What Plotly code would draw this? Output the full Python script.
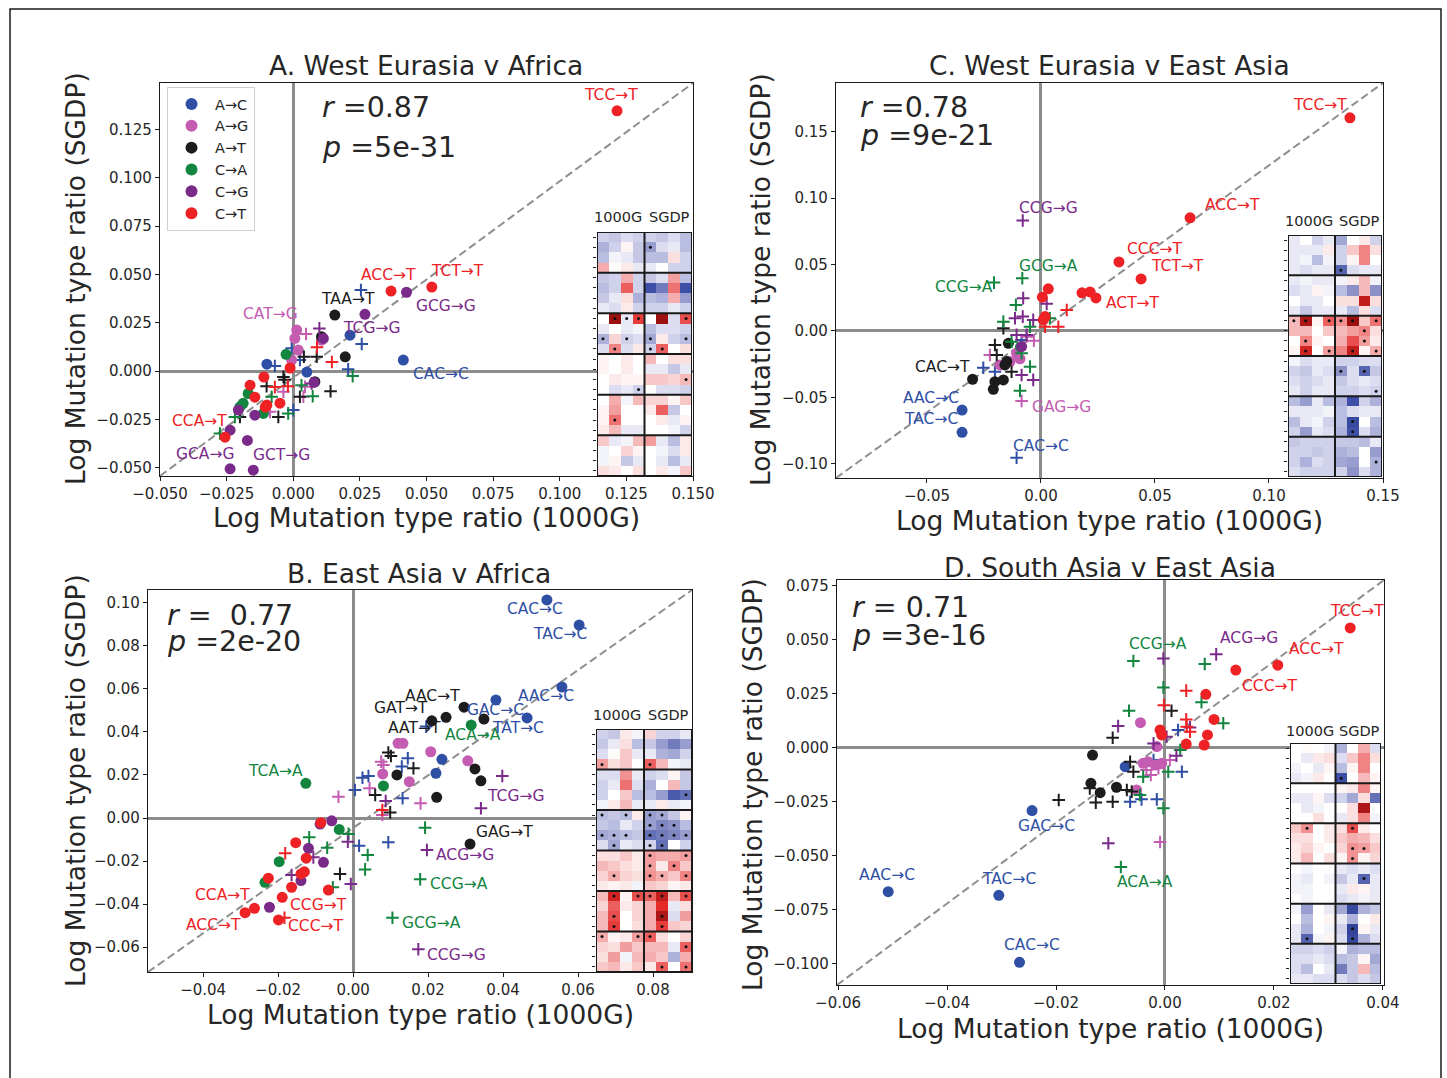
import plotly.graph_objects as go

W, H = 1447, 1078
FONT = "DejaVu Sans"
INK = "#262626"

COLORS = {"AC": "#2f4fa5", "AG": "#c45cb2", "AT": "#1c1c1c",
          "CA": "#12853f", "CG": "#7a2b8a", "CT": "#ee2125"}
CLASS_NAMES = {"AC": "A→C", "AG": "A→G", "AT": "A→T",
               "CA": "C→A", "CG": "C→G", "CT": "C→T"}
CLASS_ORDER = ["AC", "AG", "AT", "CA", "CG", "CT"]

# ---------------- Panel A: West Eurasia v Africa ----------------
A_AC_dot = [(0.0413, 0.0057), (0.0213, 0.0186), (-0.0099, 0.0036), (0.0051, -0.0005)]
A_AC_plus = [(0.0254, 0.0420), (0.0257, 0.0140), (0.0206, 0.0009), (-0.0069, 0.0026),
             (0.0025, 0.0057), (0.0000, -0.0202), (-0.0006, 0.0118)]
A_AG_dot = [(0.0013, 0.0212), (0.0006, 0.0169), (0.0019, 0.0109), (-0.0006, 0.0057), (0.0106, 0.0160)]
A_AG_plus = [(0.0048, 0.0192), (0.0044, -0.0081), (0.0038, -0.0133), (-0.0087, -0.0211), (-0.0037, -0.0107)]
A_AT_dot = [(0.0156, 0.0290), (0.0106, 0.0178), (0.0195, 0.0074), (0.0081, -0.0055)]
A_AT_plus = [(0.0040, 0.0074), (0.0088, 0.0074), (-0.0037, -0.0030), (-0.0100, -0.0078),
             (0.0025, -0.0133), (-0.0056, -0.0237), (0.0140, -0.0104), (-0.0033, -0.0045),
             (-0.0200, -0.0237)]
A_CA_dot = [(-0.0027, 0.0087), (-0.0169, -0.0116), (-0.0188, -0.0167), (-0.0200, -0.0185), (-0.0112, -0.0219)]
A_CA_plus = [(0.0223, -0.0026), (0.0073, -0.0130), (0.0031, -0.0073), (-0.0019, -0.0219),
             (-0.0081, -0.0133), (-0.0219, -0.0237), (-0.0275, -0.0323)]
A_CG_dot = [(0.0425, 0.0408), (0.0269, 0.0294), (0.0113, 0.0169), (0.0078, -0.0059),
            (-0.0206, -0.0202), (-0.0237, -0.0306), (-0.0172, -0.0359), (-0.0237, -0.0506),
            (-0.0150, -0.0513), (-0.0144, -0.0228)]
A_CG_plus = [(0.0098, 0.0221), (0.0069, -0.0064)]
A_CT_dot = [(0.1215, 0.1347), (0.0367, 0.0414), (0.0520, 0.0435), (-0.0110, -0.0031),
            (-0.0162, -0.0073), (-0.0144, -0.0135), (-0.0099, -0.0176), (-0.0105, -0.0186),
            (-0.0050, -0.0166), (-0.0256, -0.0342), (-0.0012, 0.0016)]
A_CT_plus = [(0.0089, 0.0124), (0.0145, 0.0047), (-0.0069, -0.0083), (-0.0020, -0.0078)]
A_LABELS = [("TCC→T", 0.1192, 0.1430, "CT"), ("ACC→T", 0.0357, 0.0497, "CT"),
            ("TCT→T", 0.0617, 0.0518, "CT"), ("GCG→G", 0.0575, 0.0337, "CG"),
            ("TAA→T", 0.0207, 0.0373, "AT"), ("CAT→G", -0.0086, 0.0295, "AG"),
            ("TCG→G", 0.0293, 0.0223, "CG"), ("CAC→C", 0.0556, -0.0016, "AC"),
            ("CCA→T", -0.0353, -0.0259, "CT"), ("GCA→G", -0.0331, -0.0430, "CG"),
            ("GCT→G", -0.0045, -0.0435, "CG")]

# ---------------- Panel C: West Eurasia v East Asia ----------------
C_AC_dot = [(-0.0346, -0.0596), (-0.0346, -0.0764)]
C_AC_plus = [(-0.0107, -0.0955), (-0.0253, -0.0277), (-0.0202, -0.0307), (-0.0085, -0.0068)]
C_AG_dot = [(-0.0107, -0.0168), (-0.0180, -0.0256), (-0.0136, -0.0231), (-0.0092, -0.0210)]
C_AG_plus = [(-0.0085, -0.0528), (-0.0031, -0.0073), (-0.0063, -0.0043), (-0.0224, -0.0181)]
C_AT_dot = [(-0.0300, -0.0364), (-0.0209, -0.0440), (-0.0202, -0.0382), (-0.0165, -0.0369),
            (-0.0150, -0.0231), (-0.0143, -0.0093), (-0.0158, -0.0256)]
C_AT_plus = [(-0.0202, -0.0106), (-0.0194, -0.0181), (-0.0165, 0.0020), (-0.0129, -0.0307)]
C_CA_dot = [(-0.0090, -0.0120)]
C_CA_plus = [(-0.0206, 0.0364), (-0.0082, 0.0397), (-0.0110, 0.0196), (-0.0165, 0.0070),
             (-0.0048, 0.0032), (0.0039, 0.0096), (-0.0129, -0.0081), (-0.0085, -0.0168),
             (-0.0048, -0.0269), (-0.0092, -0.0450)]
C_CG_dot = [(-0.0085, -0.0118)]
C_CG_plus = [(-0.0080, 0.0832), (-0.0078, 0.0247), (0.0025, 0.0204), (-0.0114, 0.0096),
             (-0.0080, 0.0108), (-0.0034, 0.0083), (-0.0063, -0.0030), (-0.0107, -0.0030),
             (-0.0085, -0.0332), (-0.0034, -0.0369)]
C_CT_dot = [(0.1355, 0.1606), (0.0654, 0.0852), (0.0342, 0.0520), (0.0439, 0.0392),
            (0.0241, 0.0249), (0.0180, 0.0287), (0.0215, 0.0294), (0.0032, 0.0317),
            (0.0006, 0.0254), (0.0018, 0.0108), (0.0010, 0.0083)]
C_CT_plus = [(0.0113, 0.0158), (0.0076, 0.0032), (0.0018, 0.0032)]
C_LABELS = [("TCC→T", 0.1224, 0.1702, "CT"), ("ACC→T", 0.0838, 0.0949, "CT"),
            ("CCG→G", 0.0035, 0.0926, "CG"), ("CCC→T", 0.0496, 0.0617, "CT"),
            ("GCG→A", 0.0035, 0.0489, "CA"), ("TCT→T", 0.0597, 0.0489, "CT"),
            ("CCG→A", -0.0338, 0.0331, "CA"), ("ACT→T", 0.0404, 0.0211, "CT"),
            ("CAC→T", -0.0434, -0.0271, "AT"), ("AAC→C", -0.0482, -0.0505, "AC"),
            ("GAG→G", 0.0092, -0.0572, "AG"), ("TAC→C", -0.0482, -0.0663, "AC"),
            ("CAC→C", 0.0000, -0.0866, "AC")]

# ---------------- Panel B: East Asia v Africa ----------------
B_AC_dot = [(0.0517, 0.1014), (0.0603, 0.0897), (0.0557, 0.0609), (0.0381, 0.0549),
            (0.0464, 0.0465), (0.0237, 0.0273), (0.0221, 0.0208)]
B_AC_plus = [(0.0005, 0.0130), (0.0025, 0.0187), (0.0041, 0.0195), (0.0132, 0.0092),
             (0.0146, 0.0278), (0.0130, 0.0239), (0.0016, -0.0129), (0.0094, -0.0113),
             (0.0195, 0.0425)]
B_AG_dot = [(0.0120, 0.0347), (0.0133, 0.0347), (0.0207, 0.0308), (0.0306, 0.0266),
            (0.0079, 0.0205), (0.0150, 0.0169)]
B_AG_plus = [(-0.0039, 0.0099), (0.0044, 0.0138), (0.0075, 0.0262), (0.0081, 0.0246),
             (0.0180, 0.0068), (0.0078, 0.0014)]
B_AT_dot = [(0.0296, 0.0515), (0.0248, 0.0468), (0.0210, 0.0452), (0.0349, 0.0460),
            (0.0325, 0.0228), (0.0341, 0.0173), (0.0223, 0.0096), (0.0312, -0.0121),
            (0.0117, 0.0200)]
B_AT_plus = [(0.0094, 0.0304), (0.0101, 0.0288), (0.0059, 0.0107), (0.0099, 0.0026),
             (-0.0035, -0.0260), (0.0161, 0.0231)]
B_CA_dot = [(0.0315, 0.0432), (0.0081, 0.0149), (-0.0126, 0.0161), (-0.0197, -0.0203),
            (-0.0235, -0.0299), (-0.0037, -0.0053)]
B_CA_plus = [(0.0192, -0.0045), (0.0179, -0.0285), (0.0105, -0.0464), (-0.0117, -0.0090),
             (-0.0069, -0.0138), (0.0039, -0.0172), (0.0032, -0.0239), (-0.0054, -0.0322),
             (-0.0012, -0.0074)]
B_CG_dot = [(-0.0119, -0.0141), (-0.0079, -0.0206), (-0.0139, -0.0291), (-0.0223, -0.0415),
            (-0.0057, -0.0013), (-0.0088, -0.0028)]
B_CG_plus = [(0.0341, 0.0045), (0.0398, 0.0195), (0.0197, -0.0149), (0.0174, -0.0610),
             (-0.0106, -0.0183), (-0.0164, -0.0265), (-0.0006, -0.0307), (-0.0014, -0.0110),
             (0.0087, 0.0079)]
B_CT_dot = [(-0.0288, -0.0440), (-0.0263, -0.0420), (-0.0189, -0.0369), (-0.0164, -0.0322),
            (-0.0139, -0.0260), (-0.0130, -0.0250), (-0.0226, -0.0280), (-0.0153, -0.0115),
            (-0.0125, -0.0187), (-0.0086, -0.0022), (-0.0066, -0.0335), (-0.0199, -0.0474)]
B_CT_plus = [(-0.0181, -0.0164), (0.0078, 0.0037), (-0.0183, -0.0464)]
B_LABELS = [("CAC→C", 0.0485, 0.0972, "AC"), ("TAC→C", 0.0552, 0.0856, "AC"),
            ("AAC→T", 0.0213, 0.0567, "AT"), ("AAC→C", 0.0515, 0.0567, "AC"),
            ("GAT→T", 0.0128, 0.0512, "AT"), ("GAC→C", 0.0379, 0.0502, "AC"),
            ("AAT→T", 0.0163, 0.0419, "AT"), ("TAT→C", 0.0440, 0.0419, "AC"),
            ("ACA→A", 0.0320, 0.0386, "CA"), ("TCA→A", -0.0208, 0.0219, "CA"),
            ("TCG→G", 0.0432, 0.0102, "CG"), ("GAG→T", 0.0403, -0.0065, "AT"),
            ("ACG→G", 0.0299, -0.0172, "CG"), ("CCG→A", 0.0283, -0.0307, "CA"),
            ("CCA→T", -0.0347, -0.0358, "CT"), ("CCG→T", -0.0091, -0.0405, "CT"),
            ("GCG→A", 0.0208, -0.0488, "CA"), ("ACC→T", -0.0371, -0.0498, "CT"),
            ("CCC→T", -0.0101, -0.0502, "CT"), ("CCG→G", 0.0277, -0.0637, "CG")]

# ---------------- Panel D: South Asia v East Asia ----------------
D_AC_dot = [(-0.0508, -0.0666), (-0.0305, -0.0683), (-0.0267, -0.0993), (-0.0244, -0.0291),
            (-0.0073, -0.0088)]
D_AC_plus = [(-0.0064, -0.0250), (-0.0043, -0.0239), (-0.0015, -0.0239), (0.0031, -0.0111),
             (0.0024, 0.0082), (-0.0021, -0.0057)]
D_AG_dot = [(-0.0045, 0.0116), (-0.0040, -0.0072), (-0.0031, -0.0065), (-0.0018, -0.0080),
            (-0.0006, -0.0072), (-0.0052, -0.0196), (-0.0015, 0.0005)]
D_AG_plus = [(-0.0009, -0.0436), (-0.0034, -0.0103), (-0.0026, -0.0126), (-0.0012, -0.0095),
             (0.0009, -0.0057)]
D_AT_dot = [(-0.0133, -0.0034), (-0.0136, -0.0165), (-0.0119, -0.0208), (-0.0089, -0.0183)]
D_AT_plus = [(-0.0195, -0.0242), (-0.0127, -0.0254), (-0.0096, -0.0250), (-0.0096, 0.0046),
             (0.0012, 0.0171), (-0.0064, -0.0065), (-0.0058, -0.0111), (-0.0070, -0.0196),
             (-0.0061, -0.0203), (-0.0138, -0.0188)]
D_CA_dot = []
D_CA_plus = [(-0.0058, 0.0401), (0.0073, 0.0387), (-0.0003, 0.0279), (-0.0066, 0.0171),
             (0.0067, 0.0210), (0.0107, 0.0113), (-0.0040, -0.0134), (-0.0046, -0.0219),
             (0.0006, -0.0111), (0.0028, -0.0011), (-0.0003, -0.0280), (-0.0081, -0.0552)]
D_CG_dot = []
D_CG_plus = [(-0.0104, -0.0442), (0.0094, 0.0432), (-0.0003, 0.0413), (-0.0086, 0.0100),
             (0.0046, 0.0094), (-0.0021, 0.0020), (0.0021, -0.0037), (0.0003, 0.0051)]
D_CT_dot = [(0.0340, 0.0554), (0.0207, 0.0382), (0.0130, 0.0359), (0.0075, 0.0247),
            (0.0090, 0.0131), (0.0078, 0.0059), (0.0039, 0.0017), (0.0072, 0.0012),
            (-0.0009, 0.0082), (-0.0006, 0.0059)]
D_CT_plus = [(0.0039, 0.0264), (-0.0002, 0.0197), (0.0039, 0.0131), (0.0040, 0.0097),
             (0.0046, 0.0074)]
D_LABELS = [("TCC→T", 0.0352, 0.0632, "CT"), ("ACG→G", 0.0154, 0.0507, "CG"),
            ("CCG→A", -0.0013, 0.0480, "CA"), ("ACC→T", 0.0279, 0.0456, "CT"),
            ("CCC→T", 0.0191, 0.0285, "CT"), ("GAC→C", -0.0218, -0.0362, "AC"),
            ("AAC→C", -0.0510, -0.0589, "AC"), ("TAC→C", -0.0286, -0.0607, "AC"),
            ("ACA→A", -0.0037, -0.0621, "CA"), ("CAC→C", -0.0244, -0.0913, "AC")]

# ---------------- Heatmaps: 24 contexts x (1000G | SGDP) ----------------
A_HEAT = [
    [-0.20, -0.25, -0.15, -0.20, -0.20, -0.25, -0.15, -0.30],
    [-0.35, -0.20, 0.05, -0.25, -0.45, -0.15, -0.10, -0.30],
    [-0.30, -0.05, -0.10, -0.25, -0.30, -0.30, 0.15, -0.20],
    [0.35, 0.02, 0.10, -0.10, -0.10, 0.00, -0.20, -0.20],
    [-0.25, -0.20, 0.35, -0.20, -0.25, -0.15, 0.40, -0.30],
    [-0.30, -0.20, 0.60, -0.20, -0.80, -0.60, 0.55, -0.80],
    [-0.25, -0.10, 0.15, -0.35, -0.30, -0.35, 0.35, -0.45],
    [-0.10, -0.15, 0.10, -0.20, -0.20, -0.20, -0.10, -0.20],
    [0.00, 0.95, -0.10, 0.70, 0.00, 0.95, -0.15, 0.65],
    [-0.10, 0.00, -0.10, -0.05, -0.30, -0.15, -0.15, -0.20],
    [-0.35, 0.20, -0.20, -0.15, -0.40, 0.10, -0.20, -0.30],
    [-0.15, 0.50, -0.15, 0.10, -0.20, 0.60, 0.00, 0.15],
    [0.05, 0.00, 0.10, 0.00, 0.30, 0.00, 0.15, 0.15],
    [0.05, 0.00, 0.10, 0.00, -0.10, -0.10, -0.25, -0.10],
    [0.00, 0.10, 0.05, 0.05, 0.25, 0.25, 0.20, 0.30],
    [0.00, -0.15, -0.10, -0.20, 0.00, -0.15, -0.15, -0.20],
    [0.00, 0.35, -0.05, 0.30, 0.20, 0.20, 0.05, 0.25],
    [0.05, 0.40, 0.00, 0.00, 0.10, 0.60, -0.25, 0.00],
    [0.05, 0.55, 0.00, 0.00, 0.00, 0.10, -0.10, 0.05],
    [0.10, 0.30, -0.10, -0.10, 0.00, 0.00, -0.05, -0.20],
    [0.25, -0.10, -0.05, 0.30, 0.40, -0.10, -0.30, 0.10],
    [-0.05, 0.00, 0.20, 0.05, 0.00, -0.05, -0.15, 0.10],
    [-0.05, 0.05, -0.25, -0.10, 0.00, -0.10, -0.30, -0.10],
    [0.15, 0.10, 0.00, 0.15, 0.00, 0.10, -0.05, 0.25],
]
A_HEAT_SIG = [(1, 4), (8, 1), (8, 2), (8, 3), (8, 7), (10, 0), (10, 2), (10, 4), (10, 7),
              (11, 1), (11, 4), (11, 5), (14, 7), (15, 3), (18, 1)]

C_HEAT = [
    [-0.10, 0.00, -0.20, -0.10, -0.40, 0.00, 0.10, -0.20],
    [-0.10, -0.10, -0.10, 0.10, -0.20, 0.25, 0.50, 0.15],
    [-0.10, -0.05, -0.30, -0.05, -0.20, 0.05, 0.50, 0.00],
    [-0.10, -0.15, -0.10, -0.10, -0.70, -0.15, -0.10, -0.10],
    [-0.10, -0.05, -0.10, -0.10, -0.05, 0.10, 0.30, -0.05],
    [-0.15, -0.10, 0.05, -0.05, -0.30, -0.50, 0.30, -0.50],
    [0.00, -0.10, -0.10, 0.00, 0.15, 0.15, 0.85, 0.15],
    [-0.10, -0.25, -0.10, -0.10, -0.10, -0.30, 0.15, -0.15],
    [0.30, 0.90, 0.05, 0.60, 0.45, 0.95, 0.25, 0.55],
    [0.30, 0.30, 0.00, 0.25, 0.30, 0.40, 0.50, 0.15],
    [0.00, 0.50, 0.05, 0.00, 0.35, 0.65, 0.40, 0.10],
    [0.05, 0.80, 0.00, 0.40, 0.50, 0.85, 0.05, 0.35],
    [-0.05, -0.15, -0.10, -0.10, -0.20, -0.20, -0.15, -0.15],
    [-0.20, -0.25, -0.10, -0.15, -0.50, -0.15, -0.70, -0.25],
    [-0.15, -0.20, -0.15, -0.10, -0.25, -0.15, -0.10, -0.15],
    [-0.10, -0.20, -0.10, -0.10, -0.20, -0.20, -0.15, -0.20],
    [-0.30, -0.45, -0.10, -0.30, -0.35, -0.80, -0.20, -0.35],
    [-0.10, -0.10, -0.10, -0.05, -0.30, -0.15, -0.10, -0.10],
    [-0.30, -0.10, -0.05, -0.20, -0.30, -0.85, 0.00, -0.30],
    [-0.20, -0.45, -0.10, -0.15, -0.35, -0.80, -0.15, -0.35],
    [-0.25, -0.20, -0.20, -0.20, -0.25, -0.25, -0.30, -0.10],
    [-0.20, -0.20, -0.25, -0.20, -0.35, -0.30, 0.00, -0.45],
    [-0.20, -0.35, -0.15, -0.20, -0.40, -0.45, 0.00, -0.35],
    [-0.15, -0.20, -0.20, -0.20, -0.20, -0.50, -0.15, -0.35],
]
C_HEAT_SIG = [(3, 4), (8, 0), (8, 1), (8, 3), (8, 4), (8, 5), (8, 7), (9, 6), (10, 1),
              (10, 6), (11, 1), (11, 3), (11, 5), (11, 7), (13, 4), (13, 6), (15, 7),
              (18, 5), (19, 5), (22, 7)]

B_HEAT = [
    [-0.20, -0.25, 0.10, -0.05, 0.20, -0.20, -0.20, -0.10],
    [-0.25, -0.10, 0.15, -0.30, -0.25, -0.45, -0.60, -0.45],
    [-0.15, 0.02, 0.25, -0.10, -0.10, -0.35, -0.40, -0.20],
    [0.40, 0.15, 0.25, 0.00, 0.60, 0.30, -0.05, -0.10],
    [-0.15, -0.15, 0.45, -0.10, -0.20, -0.15, 0.05, -0.25],
    [-0.20, -0.10, 0.55, -0.15, -0.35, 0.00, 0.30, -0.25],
    [-0.20, 0.00, 0.25, -0.30, -0.30, -0.45, -0.75, -0.65],
    [-0.05, 0.10, 0.30, -0.10, -0.10, 0.10, -0.10, -0.05],
    [-0.30, -0.25, -0.30, 0.10, -0.45, -0.40, -0.25, 0.05],
    [-0.25, -0.30, -0.10, -0.20, -0.45, -0.55, -0.50, -0.30],
    [-0.40, -0.35, -0.30, -0.25, -0.65, -0.60, -0.55, -0.45],
    [-0.15, -0.40, -0.10, -0.15, -0.20, -0.65, 0.00, -0.20],
    [0.15, 0.15, 0.25, 0.10, 0.40, 0.35, 0.35, 0.40],
    [0.30, 0.25, 0.15, 0.10, 0.40, 0.10, 0.50, 0.25],
    [0.20, 0.35, 0.20, 0.15, 0.45, 0.35, 0.25, 0.50],
    [0.10, 0.05, 0.10, -0.05, 0.25, 0.20, 0.05, 0.10],
    [0.30, 0.80, 0.05, 0.65, 0.60, 0.85, 0.30, 0.65],
    [0.20, 0.60, 0.10, 0.20, 0.35, 0.75, -0.10, 0.15],
    [0.30, 0.65, 0.00, 0.20, 0.35, 0.90, -0.15, 0.40],
    [0.30, 0.70, 0.00, 0.15, 0.35, 0.70, 0.25, 0.20],
    [0.35, 0.05, 0.10, 0.40, 0.60, 0.15, 0.00, 0.20],
    [0.20, 0.15, 0.40, 0.25, 0.30, 0.30, -0.10, 0.60],
    [0.15, 0.40, -0.05, 0.30, 0.35, 0.25, -0.35, 0.35],
    [0.25, 0.30, 0.10, 0.25, 0.10, 0.60, 0.00, 0.55],
]
B_HEAT_SIG = [(3, 0), (3, 4), (6, 7), (8, 0), (8, 2), (8, 4), (8, 5), (9, 4), (9, 5), (9, 6),
              (10, 0), (10, 1), (10, 2), (10, 4), (10, 5), (10, 6), (10, 7), (11, 1), (11, 4),
              (11, 5), (12, 4), (12, 7), (13, 4), (13, 6), (14, 1), (14, 4), (14, 5), (14, 7),
              (16, 1), (16, 3), (16, 4), (16, 5), (16, 7), (18, 1), (18, 5), (19, 1), (19, 5),
              (20, 0), (20, 3), (20, 4), (21, 7), (23, 5), (23, 7)]

D_HEAT = [
    [0.00, 0.02, 0.00, -0.05, -0.35, 0.00, 0.35, -0.15],
    [0.00, -0.10, 0.10, 0.15, -0.15, 0.25, 0.50, 0.15],
    [-0.05, 0.00, -0.10, 0.05, -0.30, 0.05, 0.50, 0.00],
    [-0.10, -0.05, 0.10, 0.00, -0.80, 0.00, 0.30, 0.05],
    [0.00, 0.00, 0.00, 0.00, 0.05, 0.10, 0.50, 0.05],
    [-0.10, -0.10, 0.05, -0.15, -0.20, -0.40, 0.15, -0.65],
    [0.00, -0.10, -0.05, 0.00, 0.00, 0.15, 0.90, 0.00],
    [0.00, 0.00, 0.15, 0.00, -0.10, 0.15, 0.50, -0.05],
    [0.25, 0.45, 0.00, 0.10, 0.15, 0.65, 0.10, 0.00],
    [0.15, 0.15, 0.00, 0.10, 0.25, 0.35, 0.30, 0.15],
    [0.10, 0.20, 0.05, 0.00, 0.20, 0.45, 0.40, 0.25],
    [0.10, 0.30, 0.00, 0.15, 0.05, 0.45, 0.05, 0.20],
    [0.00, -0.05, 0.00, 0.00, -0.10, -0.15, -0.10, -0.15],
    [-0.05, -0.10, 0.00, -0.05, -0.25, -0.10, -0.70, -0.10],
    [-0.05, -0.05, 0.00, 0.00, -0.10, 0.10, 0.05, -0.10],
    [0.00, -0.05, 0.00, 0.00, -0.15, -0.10, -0.05, -0.10],
    [-0.05, -0.45, 0.00, -0.10, -0.40, -0.85, -0.35, -0.25],
    [0.00, -0.30, 0.00, 0.05, -0.10, -0.35, 0.00, 0.10],
    [-0.10, -0.35, 0.00, -0.05, -0.20, -0.90, 0.05, -0.10],
    [-0.10, -0.70, -0.05, 0.05, -0.15, -0.85, -0.35, -0.15],
    [-0.20, -0.20, -0.15, -0.20, -0.05, -0.35, -0.30, -0.30],
    [-0.15, -0.15, -0.10, -0.15, -0.30, -0.25, 0.05, -0.40],
    [-0.15, -0.30, 0.00, -0.10, -0.60, -0.25, 0.30, -0.30],
    [-0.10, -0.10, -0.15, -0.15, -0.15, -0.25, -0.15, -0.25],
]
D_HEAT_SIG = [(3, 4), (8, 1), (8, 5), (10, 5), (10, 6), (11, 5), (13, 6), (18, 5), (19, 1), (19, 5)]

# ---------------- Panel geometry (pixel boxes on the 1447x1078 page) ----------------
PANELS = [
    dict(title="A. West Eurasia v Africa", title_xy=(426, 66),
         frame=(160, 83, 693, 476), xr=(-0.05, 0.15), yr=(-0.0543, 0.1491),
         xd=0.025, xf=".3f", yd=0.025, yf=".3f",
         pts={"AC": (A_AC_dot, A_AC_plus), "AG": (A_AG_dot, A_AG_plus), "AT": (A_AT_dot, A_AT_plus),
              "CA": (A_CA_dot, A_CA_plus), "CG": (A_CG_dot, A_CG_plus), "CT": (A_CT_dot, A_CT_plus)},
         labels=A_LABELS, stats=("<i>r</i> =0.87", "<i>p</i> =5e-31"),
         stats_xy=((320, 108), (320, 148)),
         xt_xy=(426, 517), yt_xy=(75, 279),
         inset=(597, 232, 692, 476), inset_lab_y=217, heat=A_HEAT, sig=A_HEAT_SIG),
    dict(title="C. West Eurasia v East Asia", title_xy=(1109, 66),
         frame=(836, 83, 1383, 478), xr=(-0.0899, 0.15), yr=(-0.1108, 0.1868),
         xd=0.05, xf=".2f", yd=0.05, yf=".2f",
         pts={"AC": (C_AC_dot, C_AC_plus), "AG": (C_AG_dot, C_AG_plus), "AT": (C_AT_dot, C_AT_plus),
              "CA": (C_CA_dot, C_CA_plus), "CG": (C_CG_dot, C_CG_plus), "CT": (C_CT_dot, C_CT_plus)},
         labels=C_LABELS, stats=("<i>r</i> =0.78", "<i>p</i> =9e-21"),
         stats_xy=((858, 108), (858, 135)),
         xt_xy=(1109, 520), yt_xy=(760, 280),
         inset=(1288, 235, 1382, 477), inset_lab_y=221, heat=C_HEAT, sig=C_HEAT_SIG),
    dict(title="B. East Asia v Africa", title_xy=(419, 573),
         frame=(148, 590, 692, 972), xr=(-0.0547, 0.0904), yr=(-0.0716, 0.106),
         xd=0.02, xf=".2f", yd=0.02, yf=".2f",
         pts={"AC": (B_AC_dot, B_AC_plus), "AG": (B_AG_dot, B_AG_plus), "AT": (B_AT_dot, B_AT_plus),
              "CA": (B_CA_dot, B_CA_plus), "CG": (B_CG_dot, B_CG_plus), "CT": (B_CT_dot, B_CT_plus)},
         labels=B_LABELS, stats=("<i>r</i> =\u00a0\u00a00.77", "<i>p</i> =2e-20"),
         stats_xy=((165, 615), (165, 642)),
         xt_xy=(420, 1014), yt_xy=(75, 781),
         inset=(596, 729, 692, 972), inset_lab_y=715, heat=B_HEAT, sig=B_HEAT_SIG),
    dict(title="D. South Asia v East Asia", title_xy=(1110, 567),
         frame=(837, 580, 1384, 985), xr=(-0.0602, 0.0402), yr=(-0.1098, 0.0776),
         xd=0.02, xf=".2f", yd=0.025, yf=".3f",
         pts={"AC": (D_AC_dot, D_AC_plus), "AG": (D_AG_dot, D_AG_plus), "AT": (D_AT_dot, D_AT_plus),
              "CA": (D_CA_dot, D_CA_plus), "CG": (D_CG_dot, D_CG_plus), "CT": (D_CT_dot, D_CT_plus)},
         labels=D_LABELS, stats=("<i>r</i> =\u00a00.71", "<i>p</i> =3e-16"),
         stats_xy=((850, 607), (850, 635)),
         xt_xy=(1110, 1028), yt_xy=(752, 785),
         inset=(1290, 743, 1381, 984), inset_lab_y=731, heat=D_HEAT, sig=D_HEAT_SIG),
]

HEAT_SCALE = [
    [0.00, "#27378c"], [0.10, "#3d4fa6"], [0.25, "#8c92c8"], [0.40, "#d0d2eb"],
    [0.50, "#ffffff"], [0.60, "#f9d4d4"], [0.75, "#f08383"], [0.875, "#e52a2a"],
    [1.00, "#8a0a0a"],
]

TITLE_SIZE = 26.5
TICK_SIZE = 15
LABEL_SIZE = 15.5
STAT_SIZE = 28.5


def px_x(px):
    return px / W


def px_y(py):
    return 1 - py / H


def ax_id(letter, n):
    return letter if n == 1 else f"{letter}{n}"


def ax_key(letter, n):
    return f"{letter}axis" if n == 1 else f"{letter}axis{n}"


fig = go.Figure()
layout = dict(template="none", width=W, height=H, autosize=False,
              margin=dict(l=0, r=0, t=0, b=0, pad=0, autoexpand=False),
              paper_bgcolor="white", plot_bgcolor="white",
              font=dict(family=FONT, color=INK), showlegend=True)
annotations = []
shapes = []

for i, p in enumerate(PANELS, start=1):
    hi = i + 4
    l, t, r, b = p["frame"]
    xa, ya = ax_id("x", i), ax_id("y", i)
    tick_font = dict(family=FONT, size=TICK_SIZE, color=INK)
    common = dict(showgrid=False, zeroline=True, zerolinecolor="#8c8c8c", zerolinewidth=3,
                  showline=True, mirror=True, linecolor="#1a1a1a", linewidth=1.3,
                  ticks="outside", ticklen=4, tickwidth=1.2, tickcolor="#1a1a1a",
                  tick0=0, tickfont=tick_font, automargin=False)
    layout[ax_key("x", i)] = dict(domain=[px_x(l), px_x(r)], range=list(p["xr"]), anchor=ya,
                                  dtick=p["xd"], tickformat=p["xf"], **common)
    layout[ax_key("y", i)] = dict(domain=[px_y(b), px_y(t)], range=list(p["yr"]), anchor=xa,
                                  dtick=p["yd"], tickformat=p["yf"], **common)

    # dashed corner-to-corner reference line
    shapes.append(dict(type="line", xref=f"{xa} domain", yref=f"{ya} domain",
                       x0=0, y0=0, x1=1, y1=1, layer="below",
                       line=dict(color="#8f8f8f", width=2, dash="8px,4px")))

    for cls in CLASS_ORDER:
        dots, plus = p["pts"][cls]
        col = COLORS[cls]
        if plus:
            fig.add_trace(go.Scatter(
                x=[q[0] for q in plus], y=[q[1] for q in plus], mode="markers",
                xaxis=xa, yaxis=ya, showlegend=False, hoverinfo="skip",
                marker=dict(symbol="cross-thin", size=9, color=col,
                            line=dict(width=2, color=col))))
        fig.add_trace(go.Scatter(
            x=[q[0] for q in dots], y=[q[1] for q in dots], mode="markers",
            xaxis=xa, yaxis=ya, name=CLASS_NAMES[cls], showlegend=(i == 1),
            hoverinfo="skip", marker=dict(symbol="circle", size=11, color=col,
                                          line=dict(width=0))))

    for text, lx, ly, cls in p["labels"]:
        annotations.append(dict(text=text, x=lx, y=ly, xref=xa, yref=ya,
                                showarrow=False, xanchor="center", yanchor="middle",
                                font=dict(family=FONT, size=LABEL_SIZE, color=COLORS[cls])))

    for s, (sx, sy) in zip(p["stats"], p["stats_xy"]):
        annotations.append(dict(text=s, x=px_x(sx), y=px_y(sy), xref="paper", yref="paper",
                                showarrow=False, xanchor="left", yanchor="middle",
                                font=dict(family=FONT, size=STAT_SIZE, color=INK)))

    annotations.append(dict(text=p["title"], x=px_x(p["title_xy"][0]), y=px_y(p["title_xy"][1]),
                            xref="paper", yref="paper", showarrow=False,
                            xanchor="center", yanchor="middle",
                            font=dict(family=FONT, size=TITLE_SIZE, color=INK)))
    annotations.append(dict(text="Log Mutation type ratio (1000G)",
                            x=px_x(p["xt_xy"][0]), y=px_y(p["xt_xy"][1]),
                            xref="paper", yref="paper", showarrow=False,
                            xanchor="center", yanchor="middle",
                            font=dict(family=FONT, size=TITLE_SIZE, color=INK)))
    annotations.append(dict(text="Log Mutation type ratio (SGDP)",
                            x=px_x(p["yt_xy"][0]), y=px_y(p["yt_xy"][1]),
                            xref="paper", yref="paper", showarrow=False, textangle=-90,
                            xanchor="center", yanchor="middle",
                            font=dict(family=FONT, size=TITLE_SIZE, color=INK)))

    # inset heatmap: rows = trinucleotide contexts, cols = 1000G | SGDP
    il, it, ir, ib = p["inset"]
    hx, hy = ax_id("x", hi), ax_id("y", hi)
    layout[ax_key("x", hi)] = dict(domain=[px_x(il), px_x(ir)], range=[-0.5, 7.5], anchor=hy,
                                   showgrid=False, zeroline=False, showticklabels=False,
                                   ticks="", showline=False, fixedrange=True, automargin=False)
    layout[ax_key("y", hi)] = dict(domain=[px_y(ib), px_y(it)], range=[23.5, -0.5], anchor=hx,
                                   showgrid=False, zeroline=False, showticklabels=False,
                                   ticks="outside", ticklen=3, tickwidth=1, tickcolor="#1a1a1a",
                                   tickvals=list(range(24)), showline=False, fixedrange=True,
                                   automargin=False)
    fig.add_trace(go.Heatmap(z=p["heat"], x=list(range(8)), y=list(range(24)),
                             colorscale=HEAT_SCALE, zmin=-1, zmax=1, showscale=False,
                             xaxis=hx, yaxis=hy, hoverinfo="skip"))
    fig.add_trace(go.Scatter(x=[c for _, c in p["sig"]], y=[rr for rr, _ in p["sig"]],
                             mode="markers", xaxis=hx, yaxis=hy, showlegend=False,
                             hoverinfo="skip", marker=dict(size=3, color="#111111")))
    shapes.append(dict(type="rect", xref=hx, yref=hy, x0=-0.5, x1=7.5, y0=-0.5, y1=23.5,
                       line=dict(color="#1a1a1a", width=2), layer="above"))
    shapes.append(dict(type="line", xref=hx, yref=hy, x0=3.5, x1=3.5, y0=-0.5, y1=23.5,
                       line=dict(color="#1a1a1a", width=2), layer="above"))
    for rb in (3.5, 7.5, 11.5, 15.5, 19.5):
        shapes.append(dict(type="line", xref=hx, yref=hy, x0=-0.5, x1=7.5, y0=rb, y1=rb,
                           line=dict(color="#1a1a1a", width=2), layer="above"))
    iw = ir - il
    for txt, cx in (("1000G", il + 0.22 * iw), ("SGDP", il + 0.76 * iw)):
        annotations.append(dict(text=txt, x=px_x(cx), y=px_y(p["inset_lab_y"]),
                                xref="paper", yref="paper", showarrow=False,
                                xanchor="center", yanchor="middle",
                                font=dict(family=FONT, size=14.5, color=INK)))

# outer frame around the whole figure
shapes.append(dict(type="rect", xref="paper", yref="paper",
                   x0=px_x(10), x1=px_x(1441), y0=-0.02, y1=px_y(9),
                   line=dict(color="#1a1a1a", width=1.5), layer="below"))

layout["annotations"] = annotations
layout["shapes"] = shapes
layout["legend"] = dict(x=px_x(167), y=px_y(87), xanchor="left", yanchor="top",
                        bgcolor="white", bordercolor="#d0d0d0", borderwidth=1,
                        font=dict(family=FONT, size=14.5, color=INK),
                        itemsizing="constant", itemwidth=37, tracegroupgap=0)
fig.update_layout(**layout)
fig.write_html("out.html")
